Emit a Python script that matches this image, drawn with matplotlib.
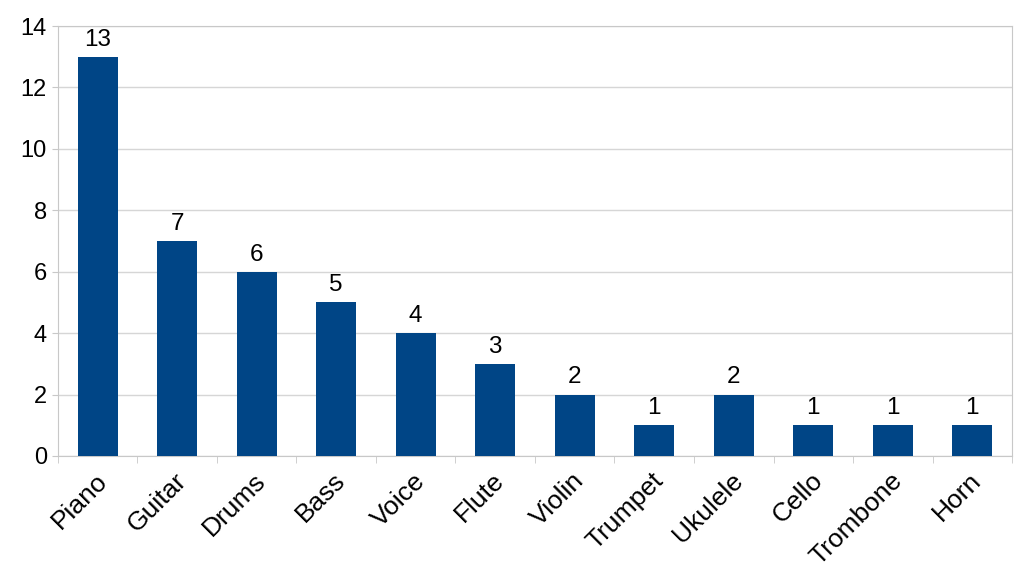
import matplotlib.pyplot as plt
import matplotlib.transforms as mtransforms
import numpy as np

plt.rcParams['font.family'] = ['Liberation Sans', 'DejaVu Sans']

instruments = ['Piano', 'Guitar', 'Drums', 'Bass', 'Voice', 'Flute', 'Violin',
               'Trumpet', 'Ukulele', 'Cello', 'Trombone', 'Horn']
counts = [13, 7, 6, 5, 4, 3, 2, 1, 2, 1, 1, 1]

fig = plt.figure(figsize=(10.33, 5.82), dpi=100)
ax = fig.add_axes([0.0561, 0.2165, 0.9236, 0.7388])

x = np.arange(len(instruments))
ax.bar(x, counts, width=0.5, color='#004586', zorder=3)
for xi, c in zip(x, counts):
    ax.text(xi, c + 0.2, str(c), ha='center', va='bottom', fontsize=17.5)

ax.set_xlim(-0.5, len(instruments) - 0.5)
ax.set_ylim(0, 14)
ax.set_yticks(range(0, 15, 2))
ax.grid(axis='y', color='#d6d6d6', linewidth=1, zorder=0)

ax.set_xticks(x)
ax.set_xticklabels(instruments, rotation=45, ha='right', rotation_mode='anchor', fontsize=19)
ax.set_xticks(np.arange(-0.5, len(instruments), 1), minor=True)
ax.tick_params(axis='x', which='major', length=0, pad=9)
ax.tick_params(axis='x', which='minor', length=5, color='#c8c8c8')
ax.tick_params(axis='y', length=4, color='#c8c8c8', labelsize=17, pad=4)

# nudge the slanted labels a little to the left
shift = mtransforms.ScaledTranslation(-3 / 100, 0, fig.dpi_scale_trans)
for lbl in ax.get_xticklabels():
    lbl.set_transform(lbl.get_transform() + shift)

for s in ['top', 'right', 'left', 'bottom']:
    ax.spines[s].set_color('#c8c8c8')

fig.savefig('out.png', dpi=100)
